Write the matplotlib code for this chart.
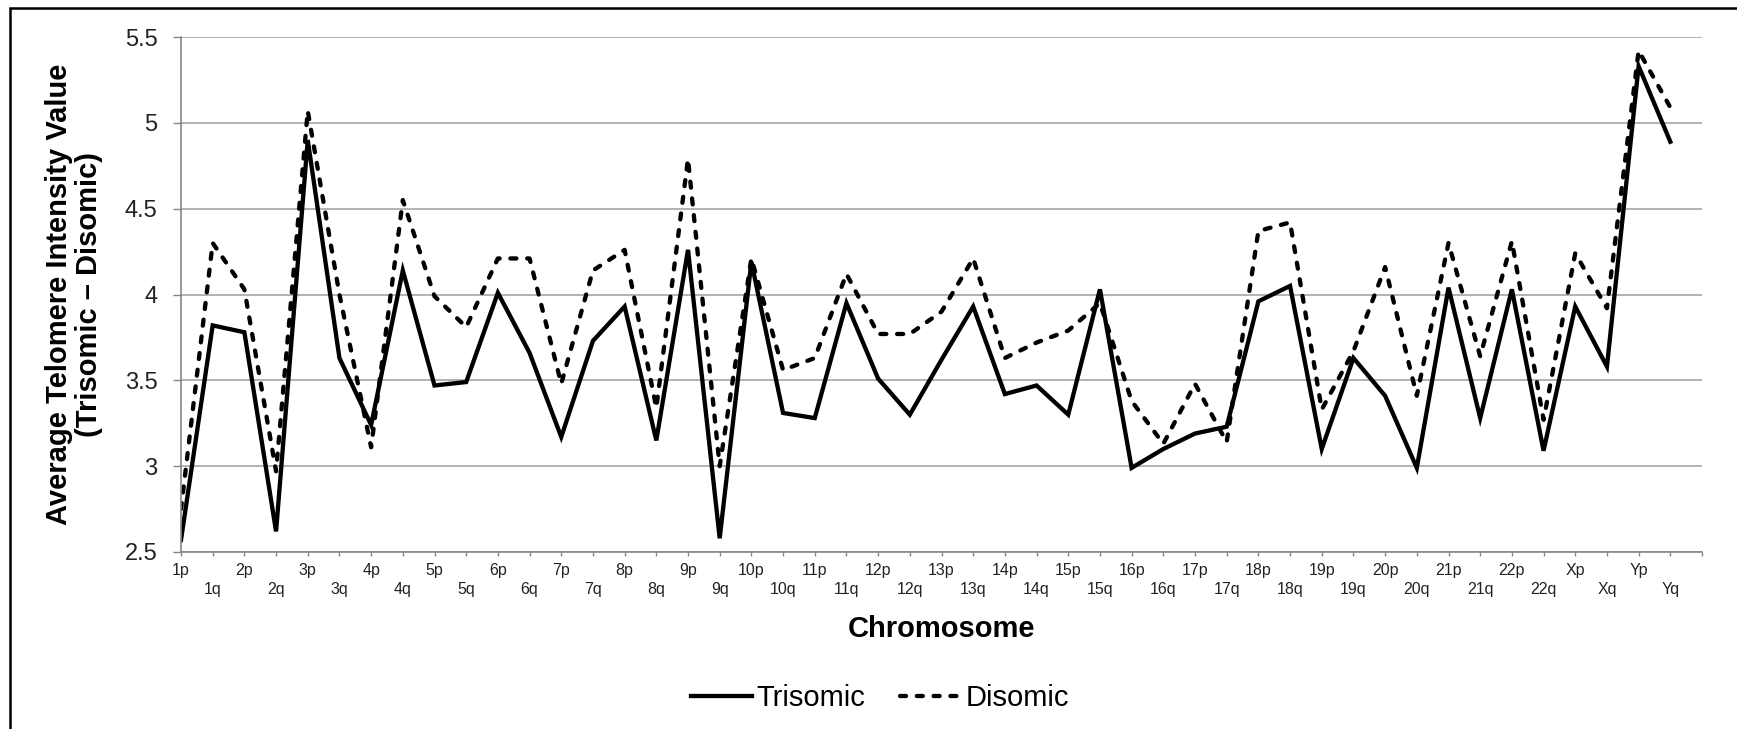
import matplotlib
matplotlib.use("Agg")
import matplotlib.pyplot as plt
from matplotlib.patches import Rectangle

plt.rcParams['font.family'] = ['Liberation Sans', 'DejaVu Sans']

# chromosome arms
arms = []
for c in list(range(1, 23)) + ['X', 'Y']:
    arms.append(f"{c}p")
    arms.append(f"{c}q")

trisomic = [2.57, 3.82, 3.78, 2.62, 4.90, 3.63, 3.24, 4.14, 3.47, 3.49,
            4.01, 3.66, 3.17, 3.73, 3.93, 3.15, 4.26, 2.58, 4.19, 3.31,
            3.28, 3.95, 3.51, 3.30, 3.62, 3.93, 3.42, 3.47, 3.30, 4.03,
            2.99, 3.10, 3.19, 3.23, 3.96, 4.05, 3.10, 3.63, 3.41, 2.99,
            4.04, 3.28, 4.03, 3.09, 3.93, 3.58, 5.33, 4.89]

disomic = [2.75, 4.30, 4.03, 2.97, 5.07, 4.00, 3.11, 4.55, 3.99, 3.81,
           4.21, 4.21, 3.48, 4.14, 4.26, 3.34, 4.79, 3.00, 4.21, 3.56,
           3.63, 4.12, 3.77, 3.77, 3.90, 4.21, 3.63, 3.72, 3.79, 3.95,
           3.38, 3.13, 3.48, 3.14, 4.37, 4.42, 3.33, 3.67, 4.16, 3.41,
           4.30, 3.64, 4.31, 3.27, 4.24, 3.92, 5.42, 5.09]

yticks = [2.5, 3, 3.5, 4, 4.5, 5, 5.5]

fig = plt.figure(figsize=(17.37, 7.29), dpi=100)
ax = fig.add_axes([181 / 1737, 1 - 552 / 729, (1702 - 181) / 1737, (552 - 37) / 729])

x = list(range(len(arms)))
ax.plot(x, trisomic, color='black', lw=3.1, solid_joinstyle='miter', label='Trisomic')
ax.plot(x, disomic, color='black', lw=3.1, dashes=(1.4, 2.5), dash_capstyle='round',
        label='Disomic')

ax.set_xlim(0, len(arms))
ax.set_ylim(2.5, 5.5)
ax.set_yticks(yticks)
ax.set_yticklabels([f"{v:g}" for v in yticks], fontsize=17, color='#222222')
ax.grid(axis='y', color='#a6a6a6', lw=1.2)
ax.set_axisbelow(True)

# p arms on the first row, q arms dropped one line
ax.set_xticks(list(range(len(arms) + 1)))
ax.set_xticklabels([a if i % 2 == 0 else "\n" + a for i, a in enumerate(arms)] + [""],
                   fontsize=11.5, linespacing=1.35, color='#222222')

for s in ['top', 'right']:
    ax.spines[s].set_visible(False)
for s in ['left', 'bottom']:
    ax.spines[s].set_color('#868686')
    ax.spines[s].set_linewidth(1.2)
ax.tick_params(axis='x', length=3, width=1, color='#868686', pad=5)
ax.tick_params(axis='y', length=6, width=1, color='#868686', pad=11)

ax.set_xlabel("Chromosome", fontsize=21, fontweight='bold', labelpad=13)
ax.set_ylabel("Average Telomere Intensity Value\n(Trisomic \u2013 Disomic)",
              fontsize=21, fontweight='bold', linespacing=1.1)
ax.yaxis.set_label_coords(-0.0705, 0.5)
ax.yaxis.label.set_va('center')

fig.legend(loc='center', bbox_to_anchor=(880 / 1737, 1 - 698 / 729), ncol=2,
           frameon=False, fontsize=21, handlelength=2.1, handletextpad=0.15,
           columnspacing=1.2)

# outer frame
fig.patches.append(Rectangle((9.5 / 1737, -0.5), 1.5, 1.5 - 7.5 / 729,
                             transform=fig.transFigure, fill=False,
                             edgecolor='black', lw=1.8))

fig.savefig("out.png", dpi=100)
